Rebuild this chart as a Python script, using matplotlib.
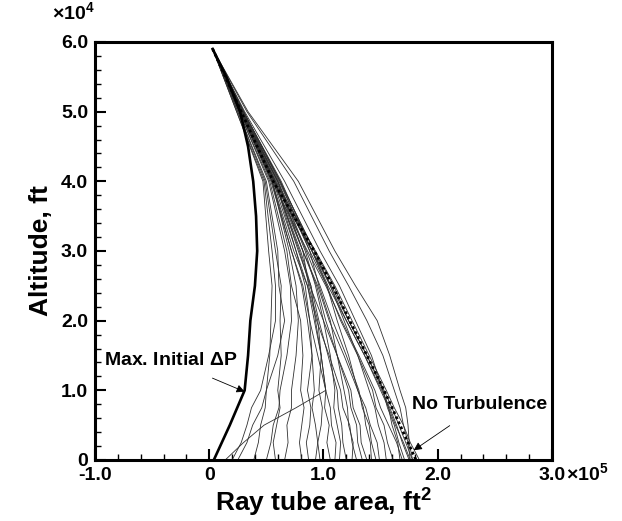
import numpy as np
import matplotlib
matplotlib.use('Agg')
import matplotlib.pyplot as plt
from matplotlib.ticker import MultipleLocator, FixedLocator

plt.rcParams['font.family'] = ['Liberation Sans', 'DejaVu Sans']
plt.rcParams['mathtext.fontset'] = 'custom'
plt.rcParams['mathtext.rm'] = 'Liberation Sans:bold'
plt.rcParams['mathtext.bf'] = 'Liberation Sans:bold'
plt.rcParams['mathtext.it'] = 'Liberation Sans:bold'

# altitude grid (x 10^4 ft) at which each ray's tube area was read
alt = [5.9, 5.0, 4.0, 3.0, 2.5, 2.0, 1.5, 1.0, 0.75, 0.5, 0.25, 0.0]

# ray tube areas (x 10^5 ft^2) for the turbulent rays, one row per ray
rays = [
    [0.03, 0.27, 0.57, 0.80, 0.89, 0.93, 0.98, 1.02, 0.76, 0.48, 0.30, 0.14],
    [0.03, 0.24, 0.48, 0.55, 0.58, 0.58, 0.52, 0.45, 0.37, 0.33, 0.28, 0.20],
    [0.03, 0.25, 0.50, 0.60, 0.61, 0.66, 0.60, 0.50, 0.46, 0.38, 0.33, 0.25],
    [0.03, 0.24, 0.47, 0.52, 0.55, 0.54, 0.53, 0.50, 0.49, 0.45, 0.43, 0.39],
    [0.03, 0.26, 0.52, 0.66, 0.71, 0.72, 0.68, 0.62, 0.61, 0.56, 0.54, 0.50],
    [0.03, 0.25, 0.49, 0.58, 0.63, 0.62, 0.63, 0.60, 0.62, 0.59, 0.56, 0.58],
    [0.03, 0.27, 0.55, 0.70, 0.76, 0.78, 0.76, 0.72, 0.72, 0.68, 0.69, 0.66],
    [0.03, 0.26, 0.53, 0.68, 0.72, 0.80, 0.82, 0.80, 0.83, 0.81, 0.79, 0.81],
    [0.03, 0.28, 0.58, 0.76, 0.84, 0.88, 0.90, 0.86, 0.89, 0.88, 0.85, 0.87],
    [0.03, 0.27, 0.55, 0.72, 0.81, 0.86, 0.90, 0.92, 0.90, 0.93, 0.95, 0.93],
    [0.03, 0.29, 0.60, 0.82, 0.87, 0.95, 0.98, 0.96, 0.99, 0.98, 0.95, 0.97],
    [0.03, 0.28, 0.56, 0.76, 0.86, 0.92, 0.98, 1.02, 1.01, 1.05, 1.03, 1.06],
    [0.03, 0.27, 0.54, 0.72, 0.82, 0.88, 0.95, 1.02, 1.06, 1.07, 1.11, 1.10],
    [0.03, 0.29, 0.60, 0.84, 0.93, 1.00, 1.06, 1.10, 1.09, 1.12, 1.15, 1.14],
    [0.03, 0.28, 0.58, 0.78, 0.89, 0.96, 1.04, 1.12, 1.13, 1.16, 1.17, 1.20],
    [0.03, 0.30, 0.62, 0.88, 0.96, 1.06, 1.12, 1.18, 1.21, 1.22, 1.26, 1.25],
    [0.03, 0.27, 0.55, 0.74, 0.86, 0.94, 1.05, 1.15, 1.17, 1.23, 1.25, 1.29],
    [0.03, 0.29, 0.59, 0.82, 0.94, 1.02, 1.12, 1.22, 1.24, 1.29, 1.30, 1.34],
    [0.03, 0.28, 0.57, 0.79, 0.88, 1.00, 1.12, 1.24, 1.26, 1.32, 1.33, 1.38],
    [0.03, 0.30, 0.63, 0.90, 1.03, 1.12, 1.22, 1.30, 1.35, 1.37, 1.41, 1.42],
    [0.03, 0.29, 0.60, 0.85, 0.97, 1.08, 1.20, 1.31, 1.34, 1.40, 1.42, 1.46],
    [0.03, 0.28, 0.57, 0.82, 0.95, 1.05, 1.18, 1.30, 1.37, 1.41, 1.47, 1.49],
    [0.03, 0.30, 0.62, 0.92, 1.06, 1.18, 1.30, 1.40, 1.45, 1.48, 1.53, 1.55],
    [0.03, 0.29, 0.60, 0.88, 1.03, 1.15, 1.30, 1.43, 1.46, 1.53, 1.56, 1.61],
    [0.03, 0.31, 0.66, 0.97, 1.14, 1.28, 1.42, 1.52, 1.57, 1.60, 1.65, 1.67],
    [0.03, 0.30, 0.62, 0.92, 1.09, 1.22, 1.38, 1.52, 1.56, 1.62, 1.66, 1.71],
    [0.03, 0.30, 0.61, 0.90, 1.06, 1.20, 1.36, 1.51, 1.58, 1.64, 1.69, 1.75],
    [0.03, 0.28, 0.56, 0.90, 1.07, 1.22, 1.38, 1.53, 1.60, 1.66, 1.72, 1.78],
    [0.03, 0.29, 0.58, 0.93, 1.10, 1.25, 1.40, 1.55, 1.62, 1.70, 1.76, 1.84],
    [0.03, 0.34, 0.78, 1.10, 1.28, 1.47, 1.58, 1.67, 1.72, 1.74, 1.75, 1.78],
    [0.03, 0.33, 0.74, 1.05, 1.22, 1.38, 1.52, 1.62, 1.67, 1.70, 1.74, 1.76],
    [0.03, 0.28, 0.57, 0.90, 1.04, 1.20, 1.36, 1.50, 1.57, 1.63, 1.70, 1.76],
    [0.03, 0.28, 0.55, 0.86, 1.02, 1.16, 1.31, 1.45, 1.50, 1.57, 1.64, 1.69],
]

# no-turbulence ray
no_turb = [0.03, 0.28, 0.56, 0.92, 1.08, 1.23, 1.38, 1.53, 1.60, 1.67, 1.74, 1.81]

# ray with maximum initial overpressure
max_alt = [5.9, 5.5, 5.0, 4.5, 4.0, 3.5, 3.0, 2.5, 2.0, 1.5, 1.0, 0.5, 0.0]
max_dp = [0.03, 0.15, 0.27, 0.34, 0.385, 0.41, 0.42, 0.40, 0.36, 0.34, 0.31, 0.18, 0.04]

fig = plt.figure(figsize=(6.22, 5.21), dpi=100)
ax = fig.add_axes([0.1527, 0.1171, 0.7347, 0.8023])

for r in rays:
    ax.plot(r, alt, color='#303030', lw=0.6)
ax.plot(max_dp, max_alt, color='black', lw=1.9)
ax.plot(no_turb, alt, color='black', lw=2.0, linestyle=(0, (1, 1)))

ax.set_xlim(-1.0, 3.0)
ax.set_ylim(0.0, 6.0)
ax.xaxis.set_major_locator(FixedLocator([-1, 0, 1, 2, 3]))
ax.yaxis.set_major_locator(FixedLocator([0, 1, 2, 3, 4, 5, 6]))
ax.xaxis.set_minor_locator(MultipleLocator(0.2))
ax.yaxis.set_minor_locator(MultipleLocator(0.2))
ax.set_xticklabels(['-1.0', '0', '1.0', '2.0', '3.0'])
ax.set_yticklabels(['0', '1.0', '2.0', '3.0', '4.0', '5.0', '6.0'])
ax.tick_params(which='both', direction='in', top=False, right=False,
               labelsize=14, width=1.5, pad=5)
ax.tick_params(which='major', length=8)
ax.tick_params(which='minor', length=4, width=1.0)
for lab in ax.get_xticklabels() + ax.get_yticklabels():
    lab.set_fontweight('bold')
for s in ax.spines.values():
    s.set_linewidth(2.2)

# exponent next to the last x tick label and above the y axis
ax.annotate(r'$\times$10$^5$', xy=(3.0, 0.0), xycoords='data',
            xytext=(9.8, -1.4), textcoords='offset points',
            fontsize=14, fontweight='bold', ha='left', va='top')
ax.text(-0.095, 1.045, r'$\times$10$^4$', fontsize=14, fontweight='bold',
        ha='left', va='bottom', transform=ax.transAxes)

ax.set_xlabel('Ray tube area, ft$^2$', fontsize=19, fontweight='bold', labelpad=2)
ax.set_ylabel('Altitude, ft', fontsize=19, fontweight='bold', labelpad=6)

ax.annotate('Max. Initial $\\Delta$P', xy=(0.31, 0.98), xytext=(-0.34, 1.43),
            fontsize=14, fontweight='bold', ha='center', va='center',
            arrowprops=dict(arrowstyle='-|>', color='black', lw=0.6,
                            shrinkA=12, shrinkB=0, mutation_scale=12))
ax.annotate('No Turbulence', xy=(1.79, 0.14), xytext=(2.37, 0.79),
            fontsize=14, fontweight='bold', ha='center', va='center',
            arrowprops=dict(arrowstyle='-|>', color='black', lw=0.6,
                            shrinkA=12, shrinkB=0, mutation_scale=12))

fig.savefig('out.png', dpi=100)
